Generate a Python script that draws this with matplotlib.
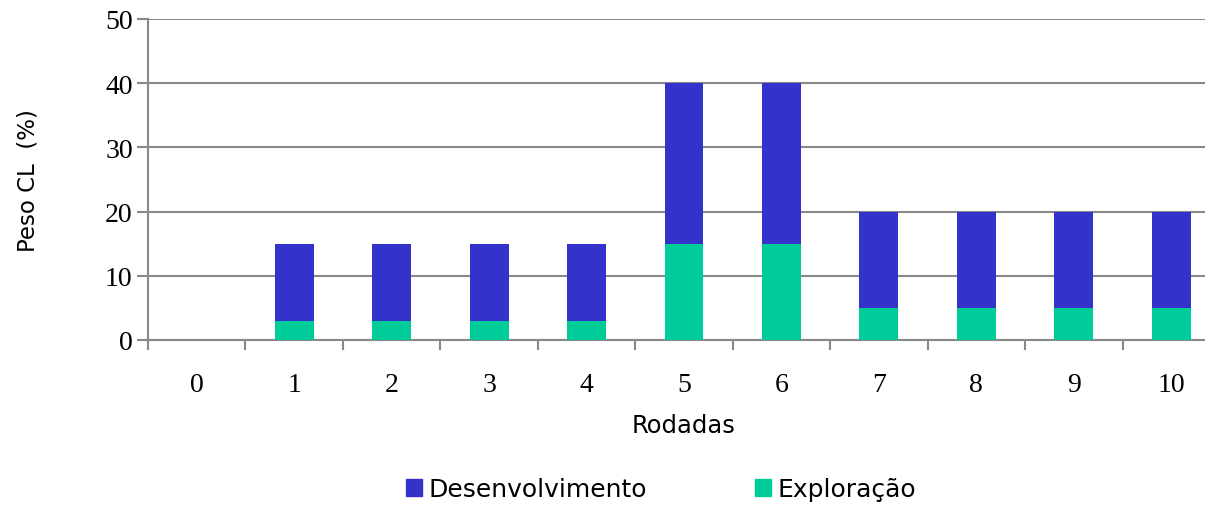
import numpy as np
import matplotlib
matplotlib.use("Agg")
import matplotlib.pyplot as plt
from matplotlib.patches import Patch

rodadas = ["0", "1", "2", "3", "4", "5", "6", "7", "8", "9", "10"]
exploracao = [0, 3, 3, 3, 3, 15, 15, 5, 5, 5, 5]
desenvolvimento = [0, 12, 12, 12, 12, 25, 25, 15, 15, 15, 15]

BLUE = "#3333CC"
GREEN = "#00CC99"
GRID = "#898989"

W, H = 1205, 506
fig = plt.figure(figsize=(W / 100, H / 100), dpi=100)
# the original chart runs past the right edge of the picture
ax = fig.add_axes([148 / W, 1 - 341 / H, 1072 / W, 321 / H])

x = np.arange(len(rodadas))
ax.bar(x, exploracao, width=0.40, color=GREEN, zorder=3)
ax.bar(x, desenvolvimento, width=0.40, bottom=exploracao, color=BLUE, zorder=3)

ax.set_xlim(-0.5, len(rodadas) - 0.5)
ax.set_ylim(0, 50)
ax.set_yticks(range(0, 51, 10))
ax.yaxis.grid(True, color=GRID, lw=1.5, zorder=0)
ax.tick_params(axis="y", direction="out", length=8, width=1.5, color=GRID,
               labelsize=20, pad=3)
for lab in ax.get_yticklabels():
    lab.set_family("Liberation Serif")

ax.set_xticks(x)
ax.set_xticklabels(rodadas, family="Liberation Serif", fontsize=20)
ax.set_xticks(np.arange(-0.5, len(rodadas)), minor=True)
ax.tick_params(axis="x", which="major", length=0, pad=23)
ax.tick_params(axis="x", which="minor", direction="out", length=7, width=1.5, color=GRID)

for side in ("top", "right"):
    ax.spines[side].set_visible(False)
for side in ("left", "bottom"):
    ax.spines[side].set_color(GRID)
    ax.spines[side].set_linewidth(1.5)

ax.set_ylabel("Peso CL  (%)", fontsize=16.5, family="DejaVu Sans")
ax.yaxis.label.set_va("center")
ax.yaxis.set_label_coords(-(148 - 28) / 1072, 0.5)
ax.set_xlabel("Rodadas", fontsize=17.5, family="DejaVu Sans")
ax.xaxis.label.set_va("center")
ax.xaxis.set_label_coords((684 - 148) / 1072, -(426 - 341) / 321)

handles = [Patch(color=BLUE, label="Desenvolvimento"), Patch(color=GREEN, label="Exploração")]
fig.legend(handles=handles, loc="center", bbox_to_anchor=(661 / W, 1 - 490 / H),
           ncol=2, frameon=False, fontsize=18, handlelength=0.65, handleheight=0.65,
           handletextpad=0.25, columnspacing=4.3)

fig.savefig("out.png", dpi=100)
